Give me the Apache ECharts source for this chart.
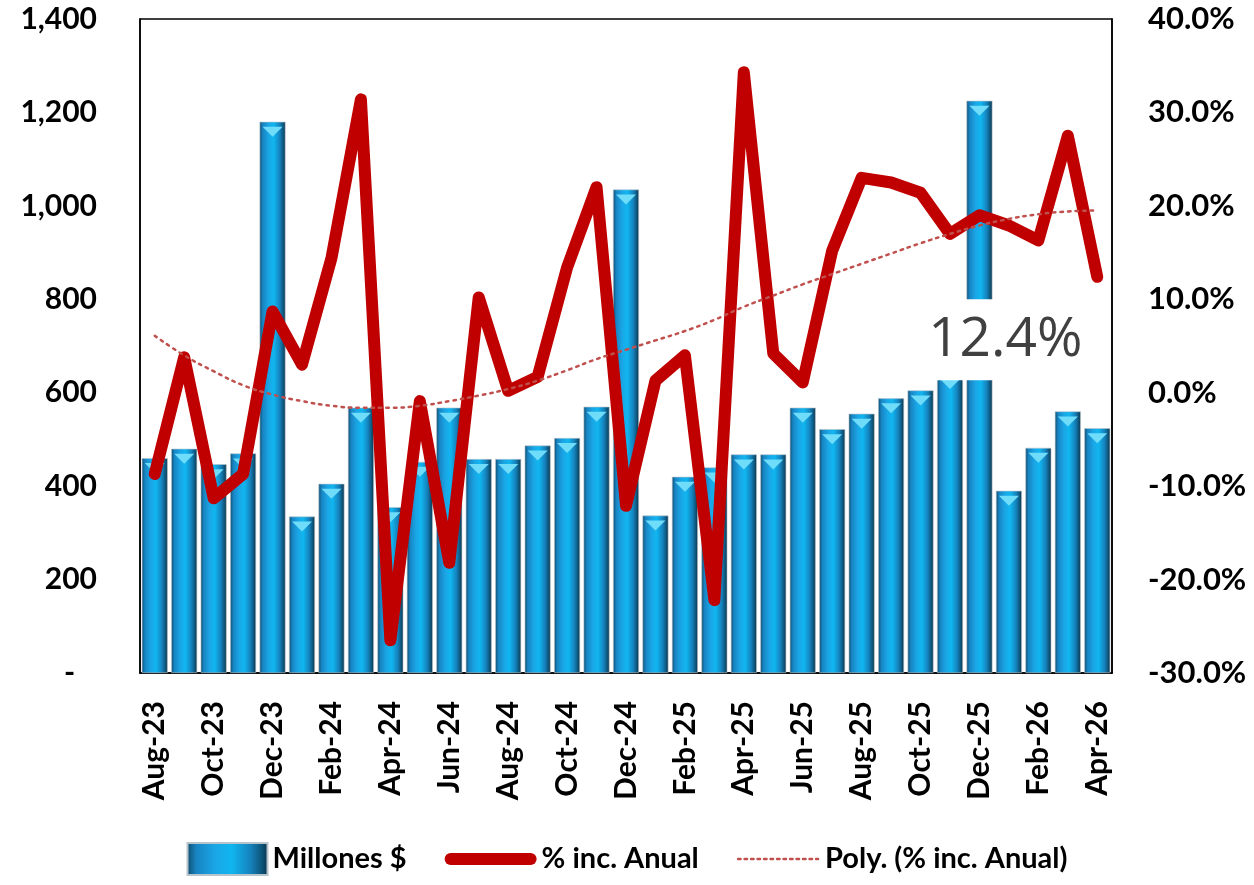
<!DOCTYPE html>
<html>
<head>
<meta charset="utf-8">
<script src="https://cdn.jsdelivr.net/npm/echarts@6/dist/echarts.min.js"></script>
<style>
  html, body { margin: 0; padding: 0; background: #fff; }
  #chart { width: 1254px; height: 885px; }
</style>
</head>
<body>
<div id="chart"></div>
<script>
// months, Aug-23 .. Apr-26
var months = ['Aug-23', 'Sep-23', 'Oct-23', 'Nov-23', 'Dec-23',
    'Jan-24', 'Feb-24', 'Mar-24', 'Apr-24', 'May-24', 'Jun-24', 'Jul-24', 'Aug-24', 'Sep-24', 'Oct-24', 'Nov-24', 'Dec-24',
    'Jan-25', 'Feb-25', 'Mar-25', 'Apr-25', 'May-25', 'Jun-25', 'Jul-25', 'Aug-25', 'Sep-25', 'Oct-25', 'Nov-25', 'Dec-25',
    'Jan-26', 'Feb-26', 'Mar-26', 'Apr-26'];

// Millones $
var millones = [460, 480, 447, 470, 1180,
    335, 405, 568, 355, 452, 568, 458, 458, 487, 503, 570, 1035,
    337, 420, 440, 468, 468, 568, 522, 555, 588, 605, 640, 1225,
    390, 482, 560, 524];

// % inc. Anual
var incAnual = [-8.7, 3.8, -11.3, -8.7, 8.7,
    3.0, 14.4, 31.4, -26.5, -0.9, -18.2, 10.2, 0.2, 1.7, 13.4, 22.0, -12.1,
    1.3, 4.0, -22.2, 34.3, 4.2, 1.1, 15.2, 23.0, 22.5, 21.4, 17.0, 19.0,
    17.9, 16.3, 27.5, 12.4];

// Poly. (% inc. Anual)
var polyTrend = [6.1, 4.0, 2.3, 0.8, -0.2,
    -0.9, -1.4, -1.6, -1.6, -1.4, -0.9, -0.3, 0.4, 1.3, 2.4, 3.6, 4.6,
    5.6, 6.6, 7.8, 9.2, 10.4, 11.6, 12.7, 13.8, 14.9, 16.0, 17.0, 17.9,
    18.6, 19.1, 19.4, 19.5];

var chart = echarts.init(document.getElementById('chart'));

var barColor = new echarts.graphic.LinearGradient(0, 0, 1, 0, [
    { offset: 0, color: '#0f4a6a' },
    { offset: 0.12, color: '#1884c2' },
    { offset: 0.35, color: '#1aa6e6' },
    { offset: 0.55, color: '#10b6f0' },
    { offset: 0.78, color: '#1582bd' },
    { offset: 0.92, color: '#0d5478' },
    { offset: 1, color: '#0a2f44' }
]);

var lastIdx = months.length - 1;
var labelFont = { fontFamily: 'Lato', fontWeight: 'bold', color: '#000' };

var option = {
    backgroundColor: '#fff',
    animation: false,
    grid: {
        left: 140,
        right: 142,
        top: 19,
        bottom: 212,
        show: true,
        borderColor: '#000',
        borderWidth: 1.5
    },
    legend: {
        bottom: 4,
        left: 'center',
        itemWidth: 80,
        itemHeight: 32,
        itemGap: 38,
        textStyle: { fontFamily: 'Lato', fontWeight: 'bold', fontSize: 29, color: '#000' },
        data: [
            { name: 'Millones $', icon: 'rect' },
            {
                name: '% inc. Anual',
                itemStyle: { opacity: 0 },
                lineStyle: { width: 12, cap: 'round' },
                textStyle: { padding: [0, 0, 0, 6] }
            },
            {
                name: 'Poly. (% inc. Anual)',
                itemStyle: { opacity: 0 },
                lineStyle: { width: 2.5, type: [2.5, 4] },
                textStyle: { padding: [0, 0, 0, 2] }
            }
        ]
    },
    xAxis: {
        type: 'category',
        data: months,
        axisLine: { lineStyle: { color: '#000', width: 1.5 } },
        axisTick: { show: false },
        axisLabel: Object.assign({ interval: 1, rotate: 90, fontSize: 30, margin: 28 }, labelFont)
    },
    yAxis: [{
        type: 'value',
        min: 0,
        max: 1400,
        interval: 200,
        splitLine: { show: false },
        axisLine: { show: true, lineStyle: { color: '#000', width: 1.5 } },
        axisLabel: Object.assign({
            fontSize: 30,
            margin: 43,
            formatter: function (v) { return v === 0 ? '-   ' : v.toLocaleString('en-US'); }
        }, labelFont)
    }, {
        type: 'value',
        min: -30,
        max: 40,
        interval: 10,
        splitLine: { show: false },
        axisLine: { show: true, lineStyle: { color: '#000', width: 1.5 } },
        axisLabel: Object.assign({
            fontSize: 31,
            margin: 36,
            formatter: function (v) { return v.toFixed(1) + '%'; }
        }, labelFont)
    }],
    series: [{
        name: 'Millones $',
        type: 'bar',
        data: millones,
        barCategoryGap: '12%',
        itemStyle: { color: barColor, borderColor: '#b8c4cc', borderWidth: 0.6 }
    }, {
        // light cap on top of each cylinder
        name: 'cap',
        type: 'pictorialBar',
        data: millones,
        symbol: 'triangle',
        symbolRotate: 180,
        symbolSize: [20, 10],
        symbolPosition: 'end',
        symbolOffset: [0, '50%'],
        z: 3,
        itemStyle: { color: '#6fdcfa' },
        silent: true
    }, {
        name: '% inc. Anual',
        type: 'line',
        yAxisIndex: 1,
        data: incAnual,
        symbol: 'none',
        z: 4,
        lineStyle: { color: '#c00000', width: 12, cap: 'round', join: 'round' },
        itemStyle: { color: '#c00000' },
        markPoint: {
            symbol: 'rect',
            symbolSize: 1,
            itemStyle: { color: 'rgba(0,0,0,0)' },
            data: [{ coord: [lastIdx, incAnual[lastIdx]], value: incAnual[lastIdx] }],
            label: {
                show: true,
                position: 'inside',
                offset: [-92, 63],
                formatter: function (p) { return p.value.toFixed(1) + '%'; },
                fontFamily: 'Open Sans',
                fontSize: 55,
                color: '#404040',
                backgroundColor: '#fff',
                padding: [13, 16, 13, 16]
            }
        }
    }, {
        name: 'Poly. (% inc. Anual)',
        type: 'line',
        yAxisIndex: 1,
        data: polyTrend,
        smooth: true,
        symbol: 'none',
        z: 4,
        lineStyle: { color: '#c0504d', width: 2.5, type: [2.5, 5], cap: 'round' },
        itemStyle: { color: '#c0504d' }
    }]
};

chart.setOption(option);
</script>
</body>
</html>
